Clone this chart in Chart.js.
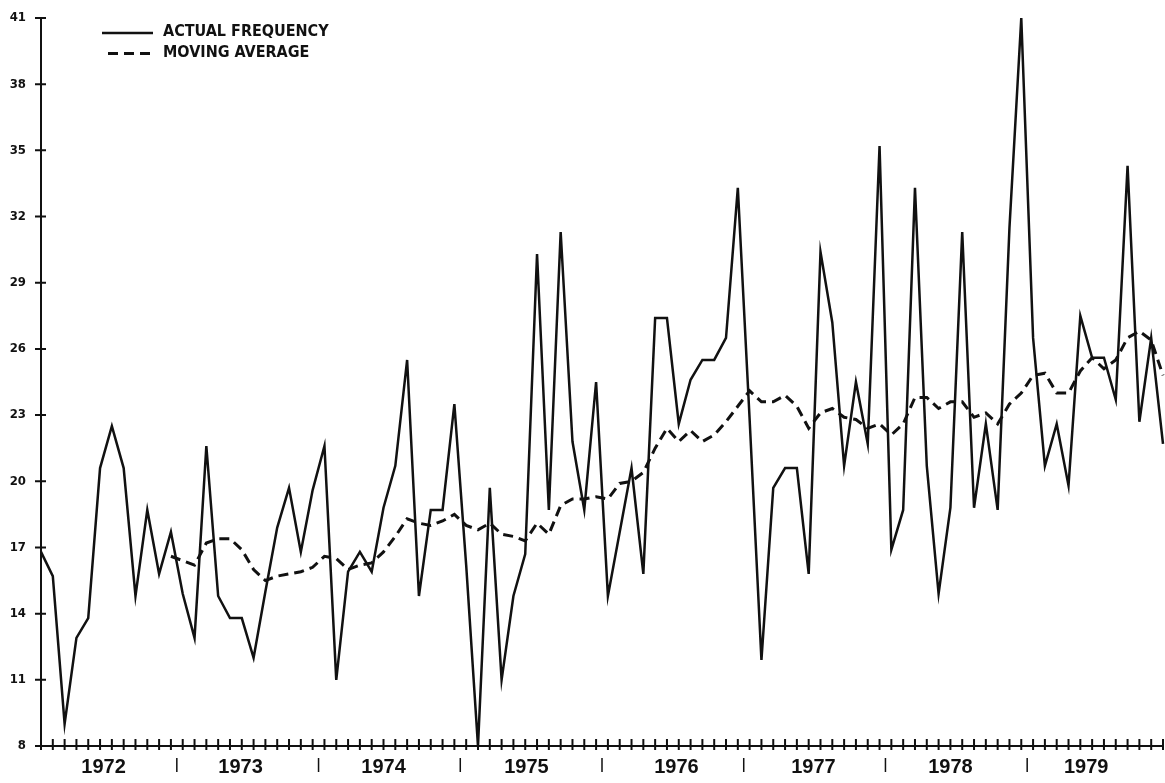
<!DOCTYPE html>
<html>
<head>
<meta charset="utf-8">
<script src="https://cdn.jsdelivr.net/npm/chart.js@4.4.1/dist/chart.umd.min.js"></script>
<style>
  html, body { margin: 0; padding: 0; background: #fff; }
  #wrap { position: relative; width: 1165px; height: 783px; }
</style>
</head>
<body>
<div id="wrap"><canvas id="freqChart"></canvas></div>
<script>
// Monthly frequency 1972-1979 with its 12-month moving average.

const YEARS = ['1972', '1973', '1974', '1975', '1976', '1977', '1978', '1979'];

// one value per month, Jan 1972 .. Dec 1979
const ACTUAL = [
  16.8, 15.7,  9.0, 12.9, 13.8, 20.6, 22.5, 20.6, 14.8, 18.7, 15.8, 17.7,
  14.9, 12.9, 21.6, 14.8, 13.8, 13.8, 12.0, 15.0, 17.9, 19.7, 16.8, 19.6,
  21.6, 11.0, 15.9, 16.8, 15.9, 18.8, 20.7, 25.5, 14.8, 18.7, 18.7, 23.5,
  16.2,  8.0, 19.7, 11.0, 14.8, 16.7, 30.3, 18.7, 31.3, 21.8, 18.7, 24.5,
  14.8, 17.7, 20.6, 15.8, 27.4, 27.4, 22.6, 24.6, 25.5, 25.5, 26.5, 33.3,
  22.8, 11.9, 19.7, 20.6, 20.6, 15.8, 30.4, 27.2, 20.7, 24.5, 21.7, 35.2,
  16.9, 18.7, 33.3, 20.7, 14.9, 18.8, 31.3, 18.8, 22.6, 18.7, 31.5, 41.0,
  26.5, 20.7, 22.6, 19.8, 27.5, 25.6, 25.6, 23.7, 34.3, 22.7, 26.5, 21.7,
];

// moving average starts at month 12 (Dec 1972)
const MA_START = 11;
const MOVING_AVG = [
  16.6, 16.4, 16.2, 17.2, 17.4, 17.4, 16.9, 16.0, 15.5, 15.7, 15.8, 15.9,
  16.1, 16.6, 16.5, 16.0, 16.2, 16.3, 16.8, 17.5, 18.3, 18.1, 18.0, 18.2,
  18.5, 18.0, 17.8, 18.1, 17.6, 17.5, 17.3, 18.1, 17.6, 18.9, 19.2, 19.2,
  19.3, 19.2, 19.9, 20.0, 20.4, 21.5, 22.4, 21.8, 22.3, 21.8, 22.1, 22.7,
  23.4, 24.1, 23.6, 23.6, 23.9, 23.4, 22.4, 23.1, 23.3, 22.9, 22.8, 22.4,
  22.6, 22.1, 22.6, 23.8, 23.8, 23.3, 23.6, 23.6, 22.9, 23.1, 22.6, 23.5,
  24.0, 24.8, 24.9, 24.0, 24.0, 25.0, 25.6, 25.1, 25.5, 26.5, 26.8, 26.4, 24.8,
];

const Y_TICKS = [8, 11, 14, 17, 20, 23, 26, 29, 32, 35, 38, 41];

// where the year names and the "|" year breaks sit, in month units
const YEAR_LABEL_POS = [5.3, 16.9, 29.0, 41.1, 53.8, 65.4, 77.0, 88.5];
const YEAR_BREAKS    = [11.5, 23.5, 35.5, 47.5, 59.5, 71.5, 83.5];

const INK = '#111';

// "+" ticks across both axes, year breaks and the little legend in the corner
const plotterMarks = {
  id: 'plotterMarks',
  afterDraw(chart) {
    const { ctx, chartArea: a, scales: { x, y } } = chart;
    ctx.save();
    ctx.strokeStyle = INK;
    ctx.fillStyle = INK;

    ctx.lineWidth = 2;
    ctx.beginPath();
    Y_TICKS.forEach(v => {
      const py = y.getPixelForValue(v);
      ctx.moveTo(a.left - 6, py);
      ctx.lineTo(a.left + 5, py);
    });
    ACTUAL.forEach((_, i) => {
      const px = x.getPixelForValue(i);
      ctx.moveTo(px, a.bottom - 7);
      ctx.lineTo(px, a.bottom + 4);
    });
    ctx.stroke();

    ctx.lineWidth = 1.5;
    ctx.beginPath();
    YEAR_BREAKS.forEach(m => {
      const px = x.getPixelForValue(m);
      ctx.moveTo(px, a.bottom + 12);
      ctx.lineTo(px, a.bottom + 26);
    });
    ctx.stroke();

    // legend
    const [ds0, ds1] = chart.data.datasets;
    ctx.lineWidth = 2.5;
    ctx.beginPath();
    ctx.moveTo(102, 33);
    ctx.lineTo(153, 33);
    ctx.stroke();
    ctx.lineWidth = 3;
    ctx.setLineDash([10, 6]);
    ctx.beginPath();
    ctx.moveTo(108, 53.5);
    ctx.lineTo(153, 53.5);
    ctx.stroke();
    ctx.setLineDash([]);
    ctx.font = 'bold 16px "DejaVu Sans Condensed", "DejaVu Sans", sans-serif';
    ctx.textBaseline = 'middle';
    ctx.textAlign = 'left';
    ctx.fillText(ds0.label, 163, 32);
    ctx.fillText(ds1.label, 163, 53);
    ctx.restore();
  }
};

new Chart(document.getElementById('freqChart'), {
  type: 'line',
  data: {
    datasets: [
      {
        label: 'ACTUAL FREQUENCY',
        data: ACTUAL.map((v, i) => ({ x: i, y: v })),
        borderColor: INK,
        borderWidth: 2.5,
        pointRadius: 0,
        tension: 0,
        clip: false,
      },
      {
        label: 'MOVING AVERAGE',
        data: MOVING_AVG.map((v, i) => ({ x: i + MA_START, y: v })),
        borderColor: INK,
        borderWidth: 3,
        borderDash: [10, 6],
        pointRadius: 0,
        tension: 0,
        clip: false,
      },
    ],
  },
  options: {
    responsive: true,
    maintainAspectRatio: false,
    animation: false,
    layout: { padding: { top: 18, right: 2, left: 0, bottom: 0 } },
    plugins: {
      legend:  { display: false },
      tooltip: { enabled: false },
    },
    scales: {
      x: {
        type: 'linear',
        min: 0,
        max: ACTUAL.length - 1,
        grid:   { display: false, drawTicks: false },
        border: { display: true, color: INK, width: 2 },
        afterBuildTicks: s => { s.ticks = YEAR_LABEL_POS.map(v => ({ value: v })); },
        afterFit: s => { s.height = 37; },
        ticks: {
          autoSkip: false,
          maxRotation: 0,
          padding: 9,
          color: INK,
          font: { family: '"Liberation Sans", Arial, sans-serif', size: 20, weight: 'bold' },
          callback: (v, i) => YEARS[i],
        },
      },
      y: {
        min: 8,
        max: 41,
        grid:   { display: false, drawTicks: false },
        border: { display: true, color: INK, width: 2 },
        afterBuildTicks: s => { s.ticks = Y_TICKS.map(v => ({ value: v })); },
        afterFit: s => { s.width = 41; s.paddingTop = 0; s.paddingBottom = 0; },
        ticks: {
          padding: 15,
          color: INK,
          font: { family: '"DejaVu Sans Condensed", "DejaVu Sans", sans-serif', size: 13, weight: 'bold' },
        },
      },
    },
  },
  plugins: [plotterMarks],
});
</script>
</body>
</html>
